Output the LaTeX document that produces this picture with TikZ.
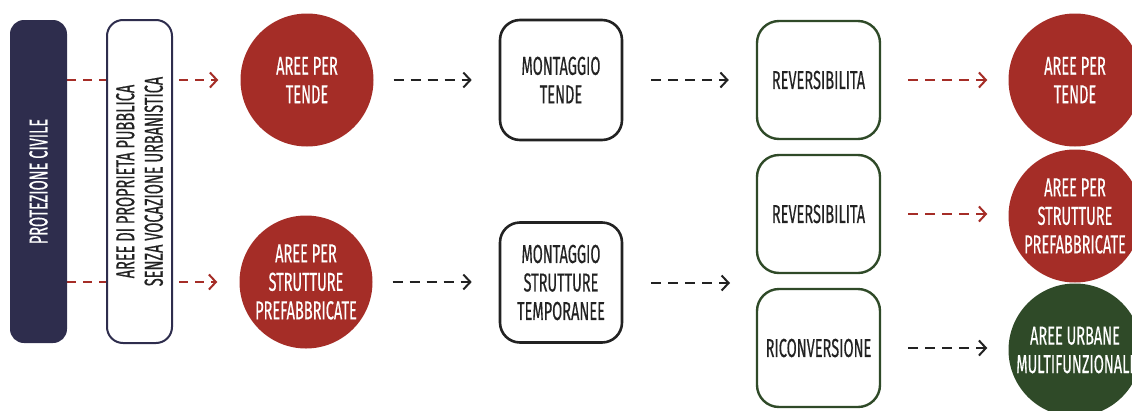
\documentclass[tikz,border=0pt]{standalone}
\usepackage{fontspec}
\setmainfont{Fira Sans}[FakeStretch=0.56, UprightFeatures={FakeBold=0.35}]
\usetikzlibrary{arrows.meta}
\pgfdeclarelayer{bg}
\pgfsetlayers{bg,main}

\definecolor{navy}{HTML}{2E2D4D}
\definecolor{brick}{HTML}{A52D27}
\definecolor{moss}{HTML}{2F4A28}
\definecolor{ink}{HTML}{222222}

\tikzset{
  label font/.style={font=\fontsize{26}{28.5}\selectfont},
  disc/.style={circle, minimum size=133pt, inner sep=0pt, align=center,
    text=white, label font},
  stepbox/.style={draw=ink, line width=2.6pt, rounded corners=20pt,
    minimum width=122pt, minimum height=120pt, align=center, text=ink,
    inner sep=0pt, label font},
  outcome/.style={draw=moss, line width=2.4pt, rounded corners=22pt,
    minimum width=123pt, minimum height=118pt, align=center, text=ink,
    inner sep=0pt, label font},
  flow/.style={line width=2pt, dash pattern=on 10pt off 7pt,
    -{Straight Barb[length=7pt,width=15pt,line width=2pt]}},
}

\begin{document}
\begin{tikzpicture}[x=1pt,y=-1pt]
\useasboundingbox (0,0) rectangle (1132,410);

% left column: authority and land ownership
\node[rotate=90, fill=navy, rounded corners=14pt, minimum width=323pt,
  minimum height=57pt, inner sep=0pt, text=white, label font]
  (pc) at (38.5,181.5) {PROTEZIONE CIVILE};
\node[rotate=90, fill=white, draw=navy, line width=2pt, rounded corners=16pt,
  minimum width=323pt, minimum height=65pt, inner sep=0pt, align=center,
  text=ink, label font]
  (land) at (139.5,181.5) {AREE DI PROPRIETA PUBBLICA\\SENZA VOCAZIONE URBANISTICA};

% emergency areas
\node[disc, fill=brick] (tents) at (307,80) {AREE PER\\TENDE};
\node[disc, fill=brick] (prefab) at (306,282) {AREE PER\\STRUTTURE\\PREFABBRICATE};

% assembly steps
\node[stepbox] (mtende) at (561,80) {MONTAGGIO\\TENDE};
\node[stepbox] (mstrut) at (561,282.5) {MONTAGGIO\\STRUTTURE\\TEMPORANEE};

% after the emergency
\node[outcome] (rev1) at (818.5,80) {REVERSIBILITA};
\node[outcome] (rev2) at (818.5,214) {REVERSIBILITA};
\node[outcome] (ric) at (818.5,348) {RICONVERSIONE};

% final uses
\node[disc, fill=brick] (ftents) at (1075,80) {AREE PER\\TENDE};
\node[disc, fill=brick] (fprefab) at (1075,216) {AREE PER\\STRUTTURE\\PREFABBRICATE};
\node[disc, fill=moss] (urban) at (1075,350) {AREE URBANE\\MULTIFUNZIONALI};

\coordinate (split) at (757,283);

% connectors (behind the land box)
\begin{pgfonlayer}{bg}
\draw[flow, brick, dash pattern=on 9pt off 7pt, shorten >=22pt]
  (pc.south |- tents) -- (tents);
\draw[flow, brick, dash pattern=on 9pt off 7pt, shorten >=22pt]
  (pc.south |- prefab) -- (prefab);
\end{pgfonlayer}

\draw[flow, ink, shorten <=20pt, shorten >=27pt] (tents) -- (mtende);
\draw[flow, ink, shorten <=20pt, shorten >=27pt] (prefab) -- (mstrut.west |- prefab);
\draw[flow, ink, shorten <=28pt, shorten >=27pt] (mtende) -- (rev1);
\draw[flow, ink, shorten <=28pt, shorten >=27pt] (mstrut.east |- split) -- (split);
\draw[flow, brick, shorten <=27pt, shorten >=21pt] (rev1) -- (ftents);
\draw[flow, brick, shorten <=27pt, shorten >=21pt] (rev2) -- (fprefab.west |- rev2);
\draw[flow, ink, shorten <=27pt, shorten >=21pt] (ric) -- (urban.west |- ric);
\end{tikzpicture}
\end{document}
